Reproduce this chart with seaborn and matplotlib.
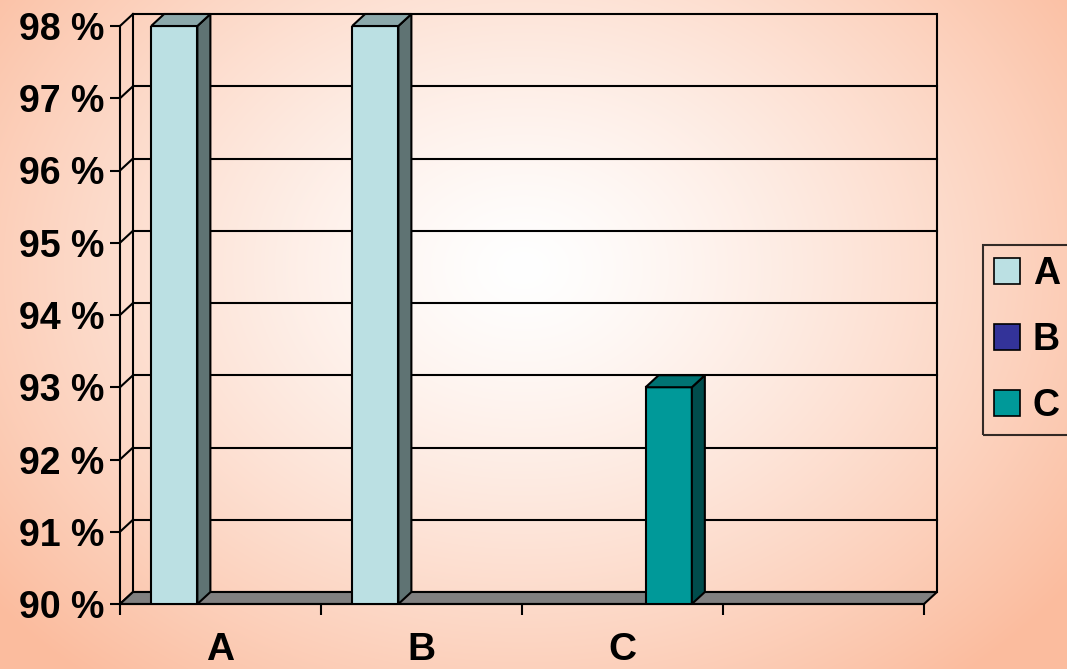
import numpy as np
import pandas as pd
import matplotlib
matplotlib.use("Agg")
import matplotlib.pyplot as plt
import seaborn as sns
from matplotlib.patches import Polygon, Rectangle

# ---------------- data ----------------
categories = ["A", "B", "C", ""]
series = ["A", "B", "C"]
bar_category = ["A", "B", "C"]
bar_series = ["A", "A", "C"]
bar_values = [98, 98, 93]
ytick_values = [90, 91, 92, 93, 94, 95, 96, 97, 98]
ytick_labels = ["90 %", "91 %", "92 %", "93 %", "94 %", "95 %", "96 %", "97 %", "98 %"]

front_colors = {"A": "#BBE0E3", "B": "#333399", "C": "#009999"}
side_colors = {"A": "#5F7373", "B": "#1A1A4D", "C": "#004C4C"}
top_colors = {"A": "#8CA9AB", "B": "#262673", "C": "#007373"}

df = pd.DataFrame({"cat": bar_category, "ser": bar_series, "val": bar_values})

W, H = 1067, 669
fig = plt.figure(figsize=(W / 100, H / 100), dpi=100)

# ---------------- background gradient ----------------
bg = fig.add_axes([0, 0, 1, 1], zorder=-10)
yy, xx = np.mgrid[0:H, 0:W]
cx, cy = 0.49 * W, 0.40 * H
t = np.sqrt(((xx - cx) / (0.64 * W)) ** 2 + ((yy - cy) / (0.80 * H)) ** 2)
t = np.clip(t, 0, 1) ** 1.3
edge = np.array([251, 188, 158]) / 255.0
center = np.array([1.0, 1.0, 1.0])
img = center[None, None, :] * (1 - t[..., None]) + edge[None, None, :] * t[..., None]
bg.imshow(img, aspect="auto", extent=[0, 1, 0, 1], origin="upper")
bg.axis("off")

# ---------------- main axes ----------------
left, right, bottom_px, top_px = 120, 924, 604, 26
ax = fig.add_axes([left / W, (H - bottom_px) / H, (right - left) / W, (bottom_px - top_px) / H])
ax.set_facecolor("none")

sns.barplot(data=df, x="cat", y="val", hue="ser", order=categories, hue_order=series,
            palette=front_colors, saturation=1, width=0.69, dodge=True, edgecolor="black",
            linewidth=1.5, ax=ax, legend=False, zorder=5)

xmin, xmax = -0.5, len(categories) - 0.5
ymin, ymax = 90, 98
ax.set_xlim(xmin, xmax)
ax.set_ylim(ymin, ymax)

# depth offset in data units (13 px right, 12 px up)
dx = 13 / (right - left) * (xmax - xmin)
dy = 12 / (bottom_px - top_px) * (ymax - ymin)

lw = 1.5
# back wall
ax.add_patch(Polygon([(xmin + dx, ymin + dy), (xmax + dx, ymin + dy), (xmax + dx, ymax + dy),
                      (xmin + dx, ymax + dy)], closed=True, fill=False, edgecolor="black",
                     lw=lw, clip_on=False, zorder=1))
for v in ytick_values[1:-1]:
    ax.plot([xmin + dx, xmax + dx], [v + dy, v + dy], color="black", lw=lw, clip_on=False, zorder=1)
# left side wall: diagonals
for v in ytick_values:
    ax.plot([xmin, xmin + dx], [v, v + dy], color="black", lw=lw, clip_on=False, zorder=1)
ax.plot([xmin, xmin], [ymin, ymax], color="black", lw=lw, clip_on=False, zorder=1)
# floor
ax.add_patch(Polygon([(xmin, ymin), (xmax, ymin), (xmax + dx, ymin + dy), (xmin + dx, ymin + dy)],
                     closed=True, facecolor="#808080", edgecolor="black", lw=lw,
                     clip_on=False, zorder=2))

# 3D faces for bars
for p in list(ax.patches):
    if not isinstance(p, Rectangle):
        continue
    h = p.get_height()
    if not np.isfinite(h) or h <= 0:
        continue
    fc = p.get_facecolor()
    key = None
    for k, c in front_colors.items():
        if np.allclose(matplotlib.colors.to_rgba(c)[:3], fc[:3], atol=0.02):
            key = k
    if key is None:
        continue
    x0 = p.get_x()
    x1 = x0 + p.get_width()
    v = p.get_y() + h
    ax.add_patch(Polygon([(x1, ymin), (x1 + dx, ymin + dy), (x1 + dx, v + dy), (x1, v)],
                         closed=True, facecolor=side_colors[key], edgecolor="black",
                         lw=lw, clip_on=False, zorder=6))
    ax.add_patch(Polygon([(x0, v), (x1, v), (x1 + dx, v + dy), (x0 + dx, v + dy)],
                         closed=True, facecolor=top_colors[key], edgecolor="black",
                         lw=lw, clip_on=False, zorder=6))

# axes styling
for s in ax.spines.values():
    s.set_visible(False)
ax.plot([xmin, xmax], [ymin, ymin], color="black", lw=lw, clip_on=False, zorder=7)

ax.set_yticks(ytick_values)
ax.set_yticklabels(ytick_labels, fontsize=27, fontweight="bold", family="Liberation Sans")
ax.tick_params(axis="y", length=7, width=lw, pad=4, color="black")

ax.set_xticks(range(len(categories)))
ax.set_xticklabels(categories, fontsize=28, fontweight="bold", family="Liberation Sans")
ax.set_xticks(np.arange(xmin, xmax + 0.01, 1.0), minor=True)
ax.tick_params(axis="x", which="major", length=0, pad=20)
ax.tick_params(axis="x", which="minor", length=8, width=lw, color="black")
ax.set_xlabel("")
ax.set_ylabel("")

# legend
handles = [Rectangle((0, 0), 1, 1, facecolor=front_colors[s], edgecolor="black", lw=1.2) for s in series]
leg = fig.legend(handles, series, loc="center left", bbox_to_anchor=(983 / W, (H - 340) / H),
                 frameon=True, fancybox=False, edgecolor="black",
                 prop={"family": "Liberation Sans", "weight": "bold", "size": 27},
                 handlelength=0.68, handleheight=0.68, handletextpad=0.35, labelspacing=0.8,
                 borderpad=0.3, borderaxespad=0)
leg.get_frame().set_facecolor("none")
leg.get_frame().set_linewidth(1.5)

fig.savefig("out.png", dpi=100)
